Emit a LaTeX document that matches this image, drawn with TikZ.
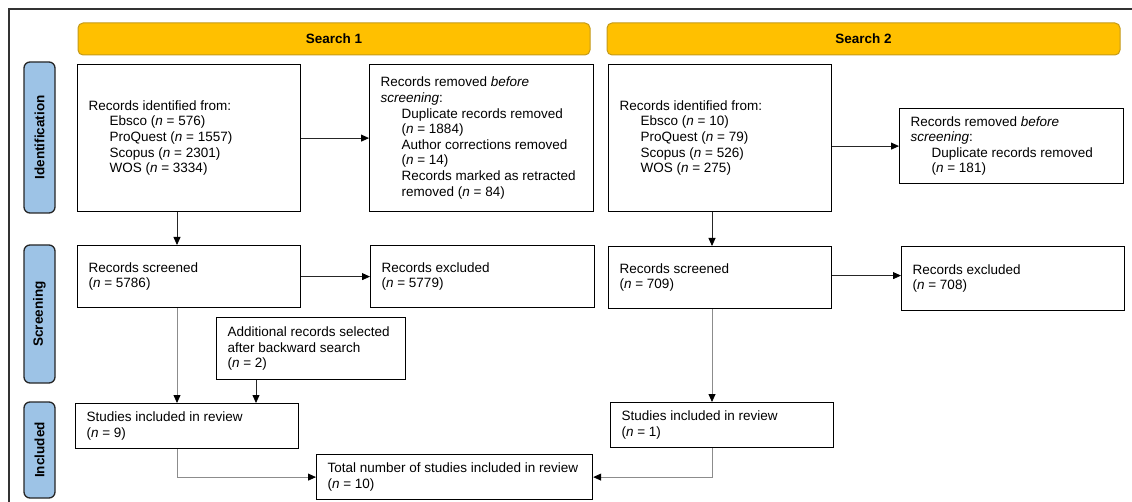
\documentclass[tikz,border=0pt]{standalone}
\usepackage{fontspec}
\setmainfont{Liberation Sans}
\usepackage{xcolor}
\usepackage{tikz}
\usetikzlibrary{arrows.meta}
\definecolor{searchfill}{HTML}{FFC000}
\definecolor{searchline}{HTML}{C49A1A}
\definecolor{phasefill}{HTML}{9DC3E6}
\newcommand{\srcgap}{\hspace*{21pt}}

\begin{document}
\begin{tikzpicture}[x=1pt,y=-1pt,every node/.style={font=\fontsize{13.5}{15.6}\selectfont},
   searchbar/.style={draw=searchline,fill=searchfill,line width=1pt,rounded corners=5pt,minimum height=32pt,font=\fontsize{13.5}{15.6}\selectfont\bfseries},
   phase/.style={draw=black!85,fill=phasefill,line width=1.3pt,rounded corners=6pt,rotate=90,minimum height=31pt,font=\fontsize{13.5}{15.6}\selectfont\bfseries},
   recbox/.style={draw,line width=1.2pt,anchor=north west,align=flush left,inner xsep=11pt,inner ysep=0pt},
   flow/.style={draw=black!85,line width=0.8pt,-{Triangle[length=8pt,width=7pt,color=black]}},
   flowlight/.style={flow,draw=black!45}]
   \useasboundingbox (0,0) rectangle (1132,502);
   \draw[line width=1.3pt,black!80] (9,520) -- (9,9) -- (1150,9);
   % headers
   \node[searchbar,minimum width=512pt] (search1) at (334,39) {Search 1};
   \node[searchbar,minimum width=513pt] (search2) at (863.5,39) {Search 2};
   \node[phase,minimum width=151pt] (identification) at (39.5,137.5) {Identification};
   \node[phase,minimum width=138pt] (screening) at (39.5,314) {Screening};
   \node[phase,minimum width=96pt] (included) at (39.5,450) {Included};
   % search 1
   \node[recbox,text width=201pt,minimum height=147pt] (ident1) at (77,64) {Records identified from:\\
      \srcgap Ebsco (\textit{n} = 576)\\ \srcgap ProQuest (\textit{n} = 1557)\\
      \srcgap Scopus (\textit{n} = 2301)\\ \srcgap WOS (\textit{n} = 3334)};
   \node[recbox,text width=202pt,minimum height=147pt] (removed1) at (369,64) {Records removed \textit{before}\\
      \textit{screening}:\\ \srcgap Duplicate records removed\\ \srcgap (\textit{n} = 1884)\\
      \srcgap Author corrections removed\\ \srcgap (\textit{n} = 14)\\
      \srcgap Records marked as retracted\\ \srcgap removed (\textit{n} = 84)};
   \node[recbox,text width=201pt,minimum height=62pt] (screen1) at (77,245) {Records screened\\ (\textit{n} = 5786)};
   \node[recbox,text width=202pt,minimum height=62pt] (excl1) at (370,245) {Records excluded\\ (\textit{n} = 5779)};
   \node[recbox,text width=167pt,minimum height=62pt] (extra) at (216,317) {Additional records selected\\
      after backward search\\ (\textit{n} = 2)};
   \node[recbox,text width=201pt,minimum height=45pt] (incl1) at (75,403) {Studies included in review\\ (\textit{n} = 9)};
   % search 2
   \node[recbox,text width=201pt,minimum height=147pt] (ident2) at (608,64) {Records identified from:\\
      \srcgap Ebsco (\textit{n} = 10)\\ \srcgap ProQuest (\textit{n} = 79)\\
      \srcgap Scopus (\textit{n} = 526)\\ \srcgap WOS (\textit{n} = 275)};
   \node[recbox,text width=202pt,minimum height=75pt] (removed2) at (899,108) {Records removed \textit{before}\\
      \textit{screening}:\\ \srcgap Duplicate records removed\\ \srcgap (\textit{n} = 181)};
   \node[recbox,text width=201pt,minimum height=62pt] (screen2) at (608,246) {Records screened\\ (\textit{n} = 709)};
   \node[recbox,text width=201pt,minimum height=64pt] (excl2) at (901,246) {Records excluded\\ (\textit{n} = 708)};
   \node[recbox,text width=201pt,minimum height=45pt] (incl2) at (610,402) {Studies included in review\\ (\textit{n} = 1)};
   % both
   \node[recbox,text width=254pt,minimum height=45pt] (total) at (316,454) {\mbox{Total number of studies included in review}\\ (\textit{n} = 10)};
   \coordinate (col1) at (177,0);
   \coordinate (col2) at (712,0);
   \coordinate (coladd) at (256,0);
   \draw[flow] (ident1.east) -- (removed1.west);
   \draw[flow] (ident1.south -| col1) -- (screen1.north -| col1);
   \draw[flow] (screen1.east) -- (screen1.east -| excl1.west);
   \draw[flowlight] (screen1.south -| col1) -- (incl1.north -| col1);
   \draw[flow] (extra.south -| coladd) -- (incl1.north -| coladd);
   \draw[flowlight] (incl1.south -| col1) |- (total.west);
   \draw[flow] (ident2.east |- removed2.west) -- (removed2.west);
   \draw[flow] (ident2.south -| col2) -- (screen2.north -| col2);
   \draw[flow] ([yshift=2pt]screen2.east) -- ([yshift=2pt]screen2.east -| excl2.west);
   \draw[flowlight] (screen2.south -| col2) -- (incl2.north -| col2);
   \draw[flowlight] (incl2.south -| col2) |- (total.east);
   %\node at (566,490) {};
\end{tikzpicture}
\end{document}
